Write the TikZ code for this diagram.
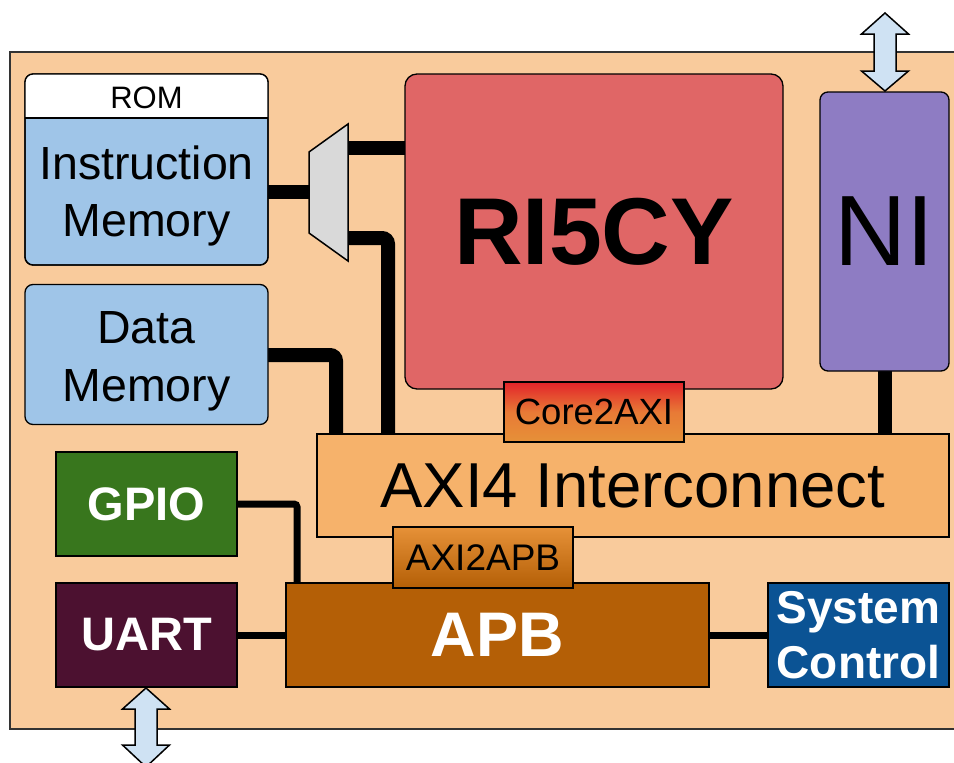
\documentclass[tikz,border=0pt]{standalone}
\usepackage{fontspec}
\setmainfont{Liberation Sans}
\pgfdeclarelayer{bglayer}
\pgfdeclarelayer{wirelayer}
\pgfsetlayers{bglayer,wirelayer,main}
\definecolor{bgor}{HTML}{F9CB9C}
\definecolor{memblue}{HTML}{9FC5E8}
\definecolor{corered}{HTML}{E06666}
\definecolor{nipurple}{HTML}{8E7CC3}
\definecolor{axior}{HTML}{F6B26B}
\definecolor{gpiog}{HTML}{38761D}
\definecolor{uartp}{HTML}{4C1130}
\definecolor{apbbr}{HTML}{B45F06}
\definecolor{sysbl}{HTML}{0B5394}
\definecolor{arrowbl}{HTML}{CFE2F3}
\definecolor{muxg}{HTML}{D9D9D9}
\definecolor{ctop}{HTML}{E2232A}
\definecolor{cmid}{HTML}{E87A36}
\definecolor{cbot}{HTML}{E69138}
\newcommand\myfs[2]{\fontsize{#1}{#2}\selectfont}
\begin{document}
\begin{tikzpicture}[x=1pt,y=-1pt,
  box/.style={draw=black, line width=1.3pt, inner sep=0pt, outer sep=0pt, align=center},
  bus/.style={line width=14pt, rounded corners=6pt},
  thinbus/.style={line width=7pt, rounded corners=3pt},
  dblarrow/.style={draw=black, line width=1.5pt, fill=arrowbl, line join=miter},
  wtxt/.style={text=white, font=\bfseries\myfs{47}{55}}]
\useasboundingbox (0,0) rectangle (954,763);

% outer board
\begin{pgfonlayer}{bglayer}
\draw[draw=black!80, line width=1.5pt, fill=bgor] (10,52) rectangle (975,729);
\end{pgfonlayer}

% blocks
\node[box, fill=memblue, rounded corners=8pt, minimum width=243pt, minimum height=191pt] (imem) at (146.5,169.5) {};
\begin{scope}
\clip (15,65) rectangle (280,118);
\fill[white, rounded corners=8pt] (imem.north west) rectangle (imem.south east);
\end{scope}
\draw[line width=1.3pt] (imem.west |- 0,118) -- (imem.east |- 0,118);
\draw[line width=1.3pt, rounded corners=8pt] (imem.north west) rectangle (imem.south east);
\node[font=\myfs{31}{36}] (rom) at (146.5,98) {ROM};
\node[align=center, font=\myfs{46.5}{57}] (imemtxt) at (146.5,196) {Instruction\\Memory};

\node[box, fill=memblue, rounded corners=8pt, minimum width=243pt, minimum height=140pt] (dmem) at (146.5,354.5) {};
\node[align=center, font=\myfs{46.5}{58}] (dmemtxt) at (146.5,361) {Data\\Memory};

\coordinate (muxtl) at (309,152);
\coordinate (muxbl) at (309,233);
\coordinate (muxtr) at (348,124);
\coordinate (muxbr) at (348,261);
\draw[line width=1.5pt, fill=muxg, line join=miter] (muxtl) -- (muxtr) -- (muxbr) -- (muxbl) -- cycle;

\node[box, fill=corered, rounded corners=12pt, minimum width=378pt, minimum height=315pt, font=\bfseries\myfs{95}{100}] (core) at (594,231.5) {RI5CY};
\node[box, fill=nipurple, rounded corners=8pt, minimum width=129pt, minimum height=279pt, font=\myfs{100}{104}] (ni) at (884.5,231.5) {NI};

\node[box, fill=axior, minimum width=632pt, minimum height=103pt, font=\myfs{63.5}{66}] (axi) at (633,485.5) {AXI4 Interconnect};
\node[box, top color=ctop, bottom color=cbot, middle color=cmid, minimum width=180pt, minimum height=60pt, font=\myfs{36.5}{40}] (c2a) at (594,412) {Core2AXI};

\node[box, fill=gpiog, minimum width=181pt, minimum height=104pt, wtxt] (gpio) at (146.5,504) {GPIO};
\node[box, fill=uartp, minimum width=181pt, minimum height=104pt, wtxt] (uart) at (146.5,635) {UART};
\node[box, fill=apbbr, minimum width=423pt, minimum height=104pt, text=white, font=\bfseries\myfs{63}{66}] (apb) at (497.5,635) {APB};
\node[box, fill=sysbl, minimum width=181pt, minimum height=104pt, text=white, font=\bfseries\myfs{46}{55}] (sys) at (858.5,635) {System\\Control};
\node[box, top color=cbot, bottom color=apbbr, minimum width=180pt, minimum height=61pt, font=\myfs{37}{40}] (a2p) at (483,557.5) {AXI2APB};

% connectors
\begin{pgfonlayer}{wirelayer}
\draw[bus] (imem.east |- 0,192) -- (muxtl |- 0,192);
\draw[bus] (muxtr |- 0,148) -- (core.west |- 0,148);
\draw[bus] (muxtr |- 0,238) -| (axi.north -| 388,0);
\draw[bus] (dmem.east |- 0,355) -| (axi.north -| 336,0);
\draw[bus] (ni.south) -- (ni.south |- axi.north);
\draw[thinbus] (gpio.east |- 0,504) -| (apb.north -| 297,0);
\draw[thinbus] (uart.east) -- (apb.west);
\draw[thinbus] (apb.east) -- (sys.west);
\end{pgfonlayer}

% external double arrows
\draw[dblarrow] (885,13) -- (908.5,34) -- (896,34) -- (896,71) -- (908.5,71) -- (885,91) -- (861.5,71) -- (874,71) -- (874,34) -- (861.5,34) -- cycle;
\draw[dblarrow] (146,688) -- (169.5,709) -- (157,709) -- (157,745) -- (169.5,745) -- (146,767) -- (122.5,745) -- (135,745) -- (135,709) -- (122.5,709) -- cycle;
\end{tikzpicture}
\end{document}
